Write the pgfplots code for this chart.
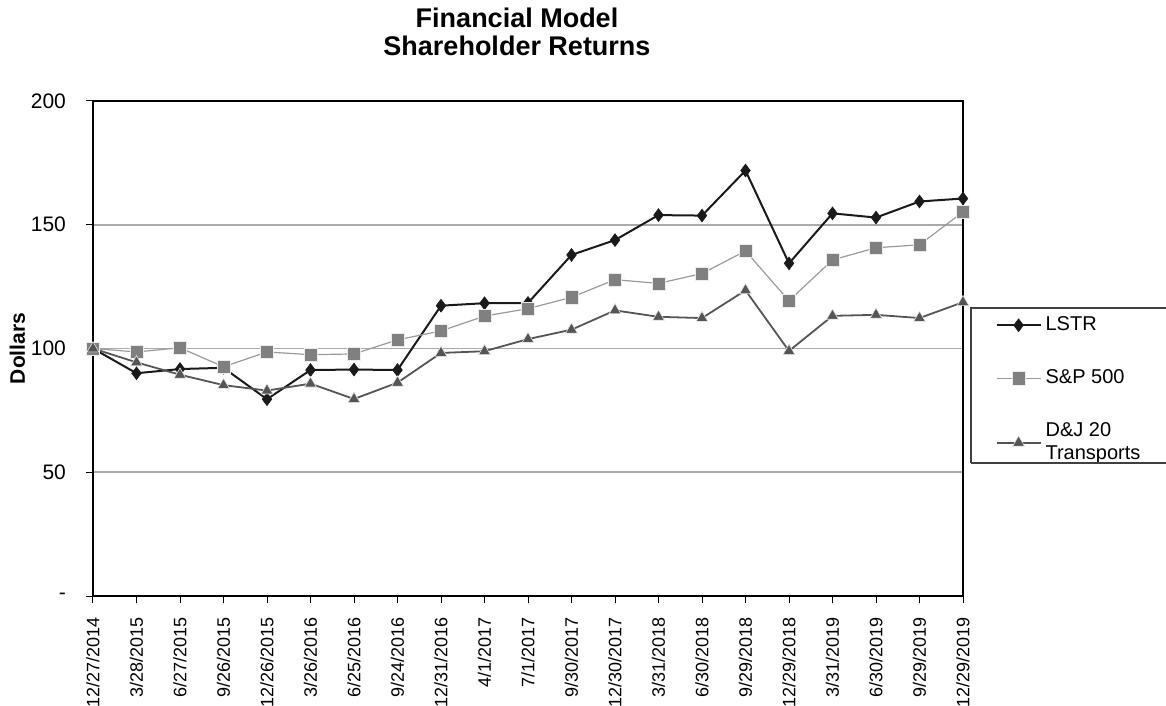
\documentclass[border=0pt]{standalone}
\usepackage{pgfplots}
\pgfplotsset{compat=1.18}
\usepackage{fontspec}
\setmainfont{Liberation Sans}
\definecolor{lstr}{HTML}{1A1A1A}
\definecolor{spline}{HTML}{9A9A9A}
\definecolor{spmark}{HTML}{808080}
\definecolor{dj}{HTML}{555555}
\definecolor{gridc}{HTML}{AAAAAA}
\begin{document}
\begin{tikzpicture}
\begin{axis}[
  name=ax, at={(0,0)}, anchor=south west,
  scale only axis, width=435pt, height=247.5pt,
  xmin=0, xmax=20, ymin=0, ymax=200,
  xtick={0,...,20},
  xticklabels={12/27/2014,3/28/2015,6/27/2015,9/26/2015,12/26/2015,3/26/2016,6/25/2016,9/24/2016,12/31/2016,4/1/2017,7/1/2017,9/30/2017,12/30/2017,3/31/2018,6/30/2018,9/29/2018,12/29/2018,3/31/2019,6/30/2019,9/29/2019,12/29/2019},
  ytick={0,50,100,150,200},
  yticklabels={-,50,100,150,200},
  /pgf/number format/assume math mode=true,
  tick pos=left, tick align=outside,
  major tick length=3.5pt,
  tick style={black, line width=0.5pt},
  axis line style={black, line width=0.7pt},
  ymajorgrids, grid style={gridc, line width=0.8pt},
  yticklabel style={font=\fontsize{10.5}{12}\selectfont, xshift=-6.5pt},
  xticklabel style={font=\fontsize{9}{10}\selectfont, rotate=90, anchor=east},
  xticklabel shift=3.5pt,
  ylabel={Dollars},
  ylabel style={font=\bfseries\fontsize{10.5}{12}\selectfont, yshift=-4pt},
  title={Financial Model\\Shareholder Returns},
  title style={font=\bfseries\fontsize{13.5}{14}\selectfont, align=center, yshift=13pt, xshift=-5.5pt},
  clip=false,
  legend style={draw=none, fill=none, at={(1.037,0.573)}, anchor=north west,
    inner sep=0pt, row sep=14pt, font=\fontsize{10}{11.5}\selectfont,
    cells={anchor=west, align=left}},
  legend image code/.code={\draw[mark repeat=2,mark phase=2] plot coordinates {(0pt,0pt) (11pt,0pt) (22pt,0pt)};},
]
\addplot[lstr, line width=1pt, mark=diamond*, mark size=3.2pt, mark options={fill=lstr, draw=lstr, line width=0.3pt}]
  coordinates {(0,100) (1,90.0) (2,91.7) (3,92.2) (4,79.5) (5,91.3) (6,91.5) (7,91.3) (8,117.3) (9,118.3) (10,118.4) (11,137.8) (12,143.8) (13,153.9) (14,153.7) (15,171.9) (16,134.4) (17,154.6) (18,152.9) (19,159.4) (20,160.6)};
\addlegendentry{LSTR}
\addplot[spline, line width=0.6pt, mark=square*, mark size=3.3pt, mark options={fill=spmark, draw=white!85!spmark, line width=0.3pt}]
  coordinates {(0,100) (1,98.6) (2,100.3) (3,92.6) (4,98.6) (5,97.5) (6,97.8) (7,103.5) (8,107.1) (9,113.1) (10,116.1) (11,120.7) (12,127.8) (13,126.3) (14,130.3) (15,139.4) (16,119.3) (17,135.8) (18,140.7) (19,141.9) (20,155.2)};
\addlegendentry{S\&P 500}
\addplot[dj, line width=0.9pt, mark=triangle*, mark size=3.4pt, mark options={fill=dj, draw=white!85!dj, line width=0.3pt}]
  coordinates {(0,100) (1,94.4) (2,89.4) (3,85.2) (4,83.0) (5,85.8) (6,79.6) (7,86.2) (8,98.2) (9,98.9) (10,103.8) (11,107.6) (12,115.4) (13,112.8) (14,112.3) (15,123.5) (16,99.0) (17,113.2) (18,113.6) (19,112.3) (20,118.7)};
\addlegendentry{D\&J 20\\Transports}
\end{axis}
\draw[line width=0.6pt, black!75] ([shift={(439pt,66.5pt)}]ax.south west) -- ([shift={(439pt,144pt)}]ax.south west) -- ([shift={(545pt,144pt)}]ax.south west);
\draw[line width=0.6pt, black!75] ([shift={(439pt,66.5pt)}]ax.south west) -- ([shift={(545pt,66.5pt)}]ax.south west);
\pgfresetboundingbox
\useasboundingbox ([shift={(-46.5pt,-55pt)}]ax.south west) rectangle ([shift={(536.5pt,298pt)}]ax.south west);
\end{tikzpicture}
\end{document}
